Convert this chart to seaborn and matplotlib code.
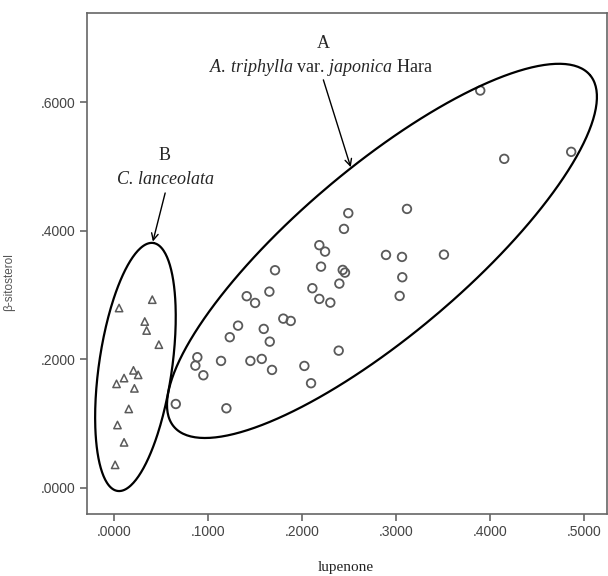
import numpy as np
import pandas as pd
import matplotlib
matplotlib.use("Agg")
import matplotlib.pyplot as plt
import seaborn as sns
from matplotlib.ticker import FuncFormatter

sns.set_theme(style="ticks")
plt.rcParams['font.family'] = ['Liberation Sans', 'DejaVu Sans']
plt.rcParams['mathtext.fontset'] = 'custom'
plt.rcParams['mathtext.rm'] = 'Liberation Serif'
plt.rcParams['mathtext.it'] = 'Liberation Serif:italic'

# group A: A. triphylla var. japonica Hara (circles)
lupenone_a = [0.2494, 0.2448, 0.2186, 0.2247, 0.2204, 0.2435, 0.2459, 0.1715, 0.2399,
              0.2112, 0.1655, 0.1414, 0.1503, 0.2186, 0.2303, 0.1803, 0.1882, 0.1322,
              0.1595, 0.1234, 0.1659, 0.0889, 0.0868, 0.1141, 0.1453, 0.1574, 0.0953,
              0.1683, 0.2027, 0.2392, 0.2098, 0.0660, 0.1198, 0.3897, 0.4152, 0.4864,
              0.3118, 0.2895, 0.3065, 0.3511, 0.3068, 0.3040]
sitosterol_a = [0.4276, 0.4031, 0.3778, 0.3678, 0.3444, 0.3393, 0.3351, 0.3388, 0.3180,
                0.3108, 0.3055, 0.2984, 0.2879, 0.2942, 0.2884, 0.2635, 0.2599, 0.2526,
                0.2475, 0.2346, 0.2277, 0.2035, 0.1904, 0.1977, 0.1977, 0.2008, 0.1754,
                0.1837, 0.1899, 0.2137, 0.1630, 0.1307, 0.1240, 0.6184, 0.5121, 0.5230,
                0.4342, 0.3626, 0.3595, 0.3631, 0.3279, 0.2988]

# group B: C. lanceolata (triangles)
lupenone_b = [0.0057, 0.0410, 0.0330, 0.0350, 0.0480, 0.0210, 0.0260, 0.0110, 0.0030,
              0.0220, 0.0160, 0.0040, 0.0110, 0.0015]
sitosterol_b = [0.280, 0.293, 0.259, 0.245, 0.223, 0.183, 0.176, 0.171, 0.162,
                0.155, 0.123, 0.098, 0.071, 0.036]

# hand-drawn group ellipses: centre x, centre y, semi-axes (y units), angle (deg)
ellipse_a = (0.2852, 0.3689, 0.4238, 0.1304, 40.2)
ellipse_b = (0.0231, 0.1883, 0.1949, 0.0568, 81.8)

df = pd.DataFrame({
    "lupenone": lupenone_a + lupenone_b,
    "sitosterol": sitosterol_a + sitosterol_b,
    "group": ["A"] * len(lupenone_a) + ["B"] * len(lupenone_b),
})

fig = plt.figure(figsize=(6.08, 5.76), dpi=100)
ax = fig.add_axes([0.1431, 0.1076, 0.855, 0.8698])

edge = "#5a5a5a"
sns.scatterplot(data=df[df.group == "A"], x="lupenone", y="sitosterol", ax=ax,
                marker="o", s=38, facecolors="none", edgecolors=edge, linewidth=1.3)
sns.scatterplot(data=df[df.group == "B"], x="lupenone", y="sitosterol", ax=ax,
                marker="^", s=28, facecolors="none", edgecolors=edge, linewidth=1.1)

ax.set_xlim(-0.0284, 0.5243)
ax.set_ylim(-0.0405, 0.739)
fig.canvas.draw()

# ratio of pixel size of one x unit to one y unit, to keep ellipses round on screen
p0 = ax.transData.transform((0, 0))
px = ax.transData.transform((1, 0)) - p0
py = ax.transData.transform((0, 1)) - p0
k = px[0] / py[1]

def draw_ellipse(params):
    cx, cy, a, b, ang = params
    t = np.linspace(0, 2 * np.pi, 300)
    th = np.deg2rad(ang)
    u, v = a * np.cos(t), b * np.sin(t)
    ex = cx + (u * np.cos(th) - v * np.sin(th)) / k
    ey = cy + u * np.sin(th) + v * np.cos(th)
    ax.plot(ex, ey, color="black", lw=1.6, zorder=1)

draw_ellipse(ellipse_a)
draw_ellipse(ellipse_b)

serif = ['Liberation Serif', 'DejaVu Serif']
arrow = dict(arrowstyle="->", color="black", lw=1.0, shrinkA=0, shrinkB=0,
             mutation_scale=12)

# label A
ax.text(0.2232, 0.692, "A", family=serif, fontsize=13, ha="center", va="center")
ax.text(0.2208, 0.654, r"$\it{A.\!\ triphylla}$ var. $\it{japonica}$ Hara",
        family=serif, fontsize=13, ha="center", va="center")
ax.annotate("", xy=(0.2520, 0.4991), xytext=(0.2229, 0.6350),
            arrowprops=arrow)

# label B
ax.text(0.0539, 0.5168, "B", family=serif, fontsize=13, ha="center", va="center")
ax.text(0.0546, 0.4794, "C. lanceolata", family=serif, style="italic",
        fontsize=13, ha="center", va="center")
ax.annotate("", xy=(0.0416, 0.3834), xytext=(0.0547, 0.4590),
            arrowprops=arrow)

fmt = FuncFormatter(lambda v, pos: f"{v:.4f}".replace("0.", ".", 1).replace("-", ""))
ax.set_xticks([0, 0.1, 0.2, 0.3, 0.4, 0.5])
ax.set_yticks([0, 0.2, 0.4, 0.6])
ax.xaxis.set_major_formatter(fmt)
ax.yaxis.set_major_formatter(fmt)

for sp in ax.spines.values():
    sp.set_color("#666666")
    sp.set_linewidth(1.2)
ax.tick_params(direction="out", length=5, width=1.2, color="#666666",
               labelsize=10, labelcolor="#444444", pad=3)

ax.set_xlabel("lupenone", family=serif, fontsize=11, color="#222222")
ax.set_ylabel("β-sitosterol", fontsize=8.5, color="#555555")
ax.xaxis.set_label_coords(0.497, -0.094)
ax.yaxis.set_label_coords(-0.139, 0.463)

fig.savefig("out.png", dpi=100)
